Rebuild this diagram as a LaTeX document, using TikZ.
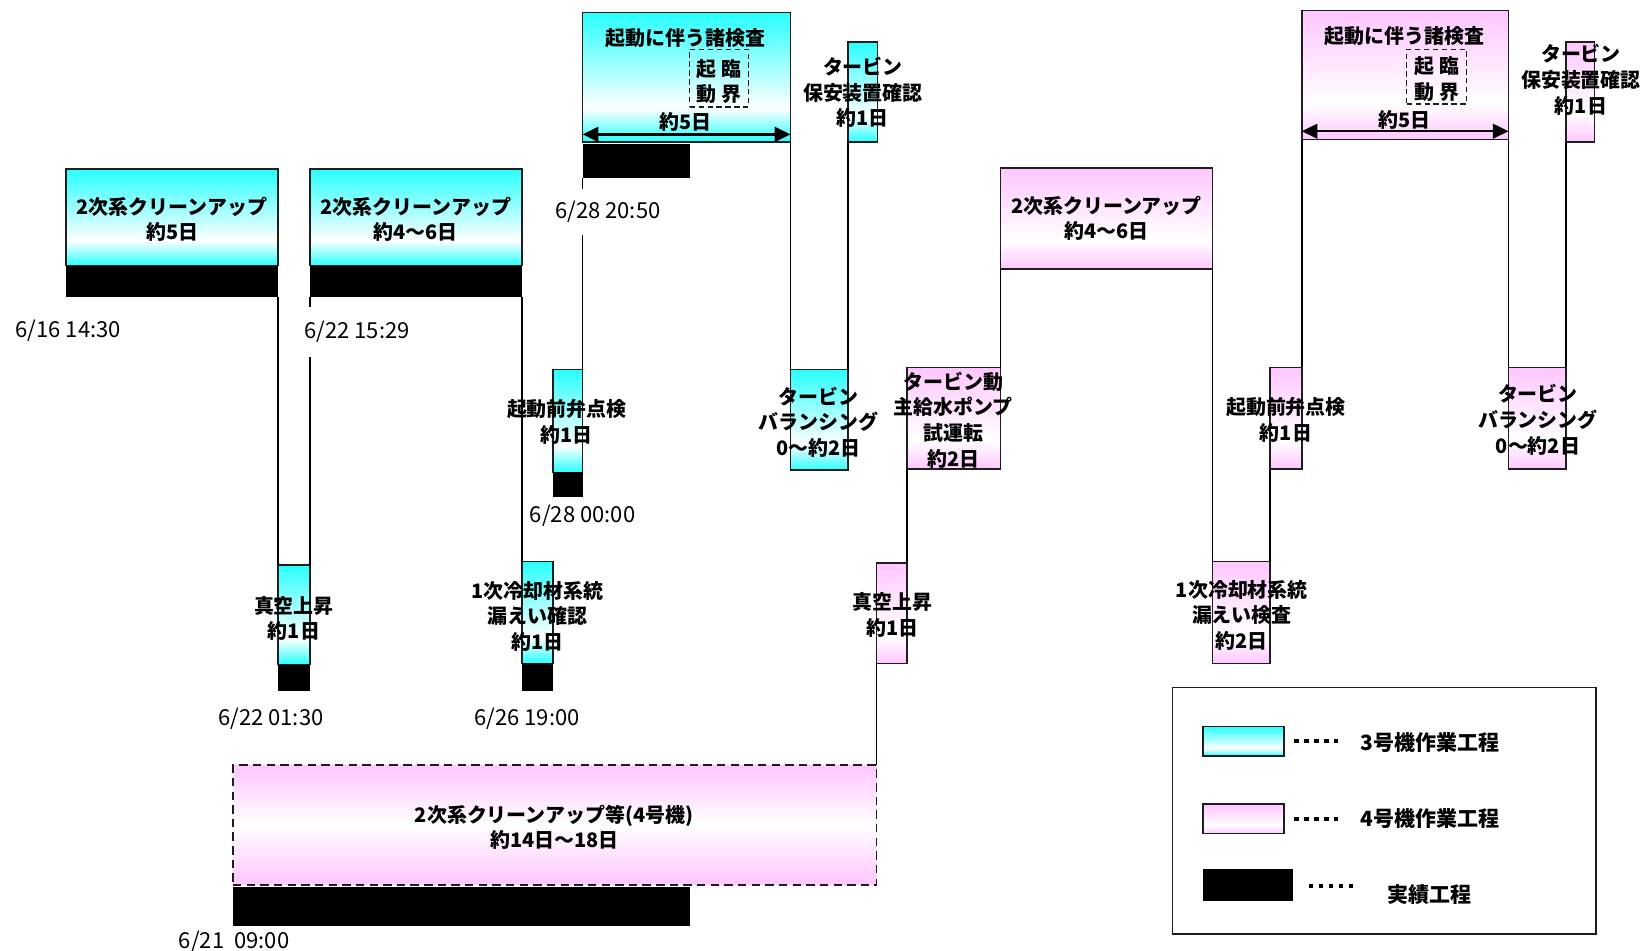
\documentclass[tikz,border=0pt]{standalone}
\usepackage{fontspec}
\setmainfont{Noto Sans CJK JP}
\usetikzlibrary{arrows.meta}
\definecolor{cy}{RGB}{40,255,255}
\definecolor{pk}{RGB}{255,198,255}
\definecolor{edge}{RGB}{30,30,30}
\pgfdeclareverticalshading{cyfade}{100bp}{color(0bp)=(cy);color(25bp)=(cy);color(38bp)=(white);color(75bp)=(cy);color(100bp)=(cy)}
\pgfdeclareverticalshading{pkfade}{100bp}{color(0bp)=(pk);color(25bp)=(pk);color(39bp)=(white);color(75bp)=(pk);color(100bp)=(pk)}
\pgfdeclareverticalshading{pkmid}{100bp}{color(0bp)=(pk);color(25bp)=(pk);color(50bp)=(white);color(75bp)=(pk);color(100bp)=(pk)}
\tikzset{
  bx/.style={draw=edge, line width=1.6pt, inner sep=0pt, outer sep=0pt, anchor=north west},
  cbox/.style={bx, shade, shading=cyfade},
  pbox/.style={bx, shade, shading=pkfade},
  bigbox/.style={bx, shade, shading=pkmid, dash pattern=on 8pt off 5pt},
  bar/.style={fill=black, inner sep=0pt, outer sep=0pt, anchor=north west},
  critbox/.style={draw=edge, line width=1.2pt, dash pattern=on 5pt off 3.5pt, inner sep=0pt, outer sep=0pt, anchor=north west},
  lbl/.style={font=\bfseries\fontsize{19}{24.5}\selectfont, align=center, inner sep=0pt},
  lgd/.style={font=\bfseries\fontsize{20}{24}\selectfont, inner sep=0pt},
  datelbl/.style={font=\fontsize{21}{24}\selectfont, inner sep=0pt},
  conn/.style={line width=1.6pt, draw=black},
  dblarrow/.style={line width=2.2pt, {Triangle[length=15pt,width=14pt]}-{Triangle[length=15pt,width=14pt]}},
  legdots/.style={line width=4pt, dash pattern=on 4pt off 5.5pt},
}
\begin{document}
\begin{tikzpicture}[x=1pt,y=-1pt]
\useasboundingbox (0,0) rectangle (1567,905);
% ---------------- Unit 3 (cyan) ----------------
\node[cbox, minimum width=202pt, minimum height=92pt] (boxA) at (63,161) {};
\node[bar, minimum width=202pt, minimum height=30pt] (barA) at (63,253) {};
\node[cbox, minimum width=30pt, minimum height=95pt] (vac3) at (265,538) {};
\node[bar, minimum width=30pt, minimum height=25pt] (vacbar3) at (265,633) {};
\node[cbox, minimum width=202pt, minimum height=92pt] (boxB) at (295,161) {};
\node[bar, minimum width=202pt, minimum height=30pt] (barB) at (295,253) {};
\node[cbox, minimum width=30pt, minimum height=97pt] (leak3) at (497,535) {};
\node[bar, minimum width=30pt, minimum height=26pt] (leakbar3) at (497,632) {};
\node[cbox, minimum width=28pt, minimum height=98pt] (valve3) at (527,352) {};
\node[bar, minimum width=28pt, minimum height=23pt] (valvebar3) at (527,450) {};
\node[cbox, minimum width=198pt, minimum height=123pt] (start3) at (555,12) {};
\node[bar, minimum width=102pt, minimum height=33pt] (startbar3) at (555,137) {};
\node[cbox, minimum width=55pt, minimum height=96pt] (bal3) at (753,352) {};
\node[cbox, minimum width=28pt, minimum height=95pt] (safe3) at (808,40) {};
\node[critbox, minimum width=56pt, minimum height=55pt] (crit3) at (657,47) {};
% ---------------- Unit 4 (pink) ----------------
\node[bigbox, minimum width=613pt, minimum height=114pt] (big4) at (222,729) {};
\node[bar, minimum width=435pt, minimum height=37pt] (bigbar4) at (222,845) {};
\node[pbox, minimum width=29pt, minimum height=96pt] (vac4) at (835,536) {};
\node[pbox, minimum width=89pt, minimum height=97pt] (pump4) at (864,350) {};
\node[pbox, minimum width=202pt, minimum height=96pt] (boxC) at (953,160) {};
\node[pbox, minimum width=55pt, minimum height=97pt] (leak4) at (1155,535) {};
\node[pbox, minimum width=30pt, minimum height=97pt] (valve4) at (1210,350) {};
\node[pbox, minimum width=197pt, minimum height=123pt] (start4) at (1240,10) {};
\node[pbox, minimum width=55pt, minimum height=97pt] (bal4) at (1437,350) {};
\node[pbox, minimum width=27pt, minimum height=95pt] (safe4) at (1492,40) {};
\node[critbox, minimum width=57pt, minimum height=52pt] (crit4) at (1340,47) {};
% ---------------- connectors ----------------
\draw[conn] (barA.south east) -- (vac3.north west);
\draw[conn] (vac3.north east) -- (barB.south west);
\draw[conn] (barB.south east) -- (leak3.north west);
\draw[conn] (valve3.north east) -- (startbar3.south west);
\draw[conn] (start3.south east) -- (bal3.north west);
\draw[conn] (bal3.north east) -- (safe3.south west);
\draw[conn] (big4.north east) -- (vac4.south west);
\draw[conn] (vac4.north east) -- (pump4.south west);
\draw[conn] (pump4.north east) -- (boxC.south west);
\draw[conn] (boxC.south east) -- (leak4.north west);
\draw[conn] (leak4.north east) -- (valve4.south west);
\draw[conn] (valve4.north east) -- (start4.south west);
\draw[conn] (start4.south east) -- (bal4.north west);
\draw[conn] (bal4.north east) -- (safe4.south west);
% duration arrows
\draw[dblarrow] ([yshift=7pt]start3.south west) -- ([yshift=7pt]start3.south east);
\draw[dblarrow] ([yshift=8pt]start4.south west) -- ([yshift=8pt]start4.south east);
% ---------------- labels ----------------
\node[lbl] (tA) at (164,209) {2次系クリーンアップ\\約5日};
\node[lbl] (tB) at (396,209) {2次系クリーンアップ\\約4～6日};
\node[lbl] (tvac3) at (280,589) {真空上昇\\約1日};
\node[lbl] (tleak3) at (512,587) {1次冷却材系統\\漏えい確認\\約1日};
\node[lbl] (tvalve3) at (540,402) {起動前弁点検\\約1日};
\node[lbl] (tstart3) at (653,36) {起動に伴う諸検査};
\node[lbl] (tcrit3) at ([yshift=-3pt]crit3.center) {起\hspace{5pt}臨\\動\hspace{5pt}界};
\node[lbl] (tdur3) at (653,116) {約5日};
\node[lbl] (tbal3) at (780,402) {タービン\\バランシング\\0～約2日};
\node[lbl] (tsafe3) at (822,88) {タービン\\保安装置確認\\約1日};
\node[lbl] (tbig4) at (528,788) {2次系クリーンアップ等(4号機)\\約14日～18日};
\node[lbl] (tvac4) at (850,586) {真空上昇\\約1日};
\node[lbl] (tpump4) at (908,400) {タービン動\\主給水ポンプ\\試運転\\約2日};
\node[lbl] (tC) at (1054,208) {2次系クリーンアップ\\約4～6日};
\node[lbl] (tleak4) at (1183,586) {1次冷却材系統\\漏えい検査\\約2日};
\node[lbl] (tvalve4) at (1225,400) {起動前弁点検\\約1日};
\node[lbl] (tstart4) at (1338,34) {起動に伴う諸検査};
\node[lbl] (tcrit4) at ([yshift=-2pt]crit4.center) {起\hspace{5pt}臨\\動\hspace{5pt}界};
\node[lbl] (tdur4) at (1338,114) {約5日};
\node[lbl] (tbal4) at (1465,400) {タービン\\バランシング\\0～約2日};
\node[lbl] (tsafe4) at (1506,76) {タービン\\保安装置確認\\約1日};
% ---------------- dates ----------------
\node[datelbl] (d1) at (65,315) {6/16 14:30};
\node[datelbl, fill=white, minimum height=48pt] (d2) at (340,316) {6/22 15:29};
\node[datelbl] (d3) at (258,685) {6/22 01:30};
\node[datelbl] (d4) at (502,685) {6/26 19:00};
\node[datelbl] (d5) at (555,491) {6/28 00:00};
\node[datelbl, fill=white, minimum height=44pt] (d6) at (579,202) {6/28 20:50};
\node[datelbl] (d7) at (223,897) {6/21\ \ 09:00};
% ---------------- legend ----------------
\node[bx, minimum width=403pt, minimum height=235pt] (leg) at (1117,655) {};
\node[cbox, minimum width=77pt, minimum height=28pt] (lc) at (1146,692) {};
\node[pbox, minimum width=77pt, minimum height=28pt] (lp) at (1146,766) {};
\node[bar, minimum width=86pt, minimum height=30pt] (lb) at (1146,828) {};
\draw[legdots] ([xshift=10pt]lc.east) -- ++(46,0);
\draw[legdots] ([xshift=10pt]lp.east) -- ++(46,0);
\draw[legdots] ([xshift=15pt,yshift=-1pt]lb.east) -- ++(46,0);
\node[lgd] (lt3) at (1362,707) {3号機作業工程};
\node[lgd] (lt4) at (1362,780) {4号機作業工程};
\node[lgd] (ltb) at (1362,852) {実績工程};
\end{tikzpicture}
\end{document}
